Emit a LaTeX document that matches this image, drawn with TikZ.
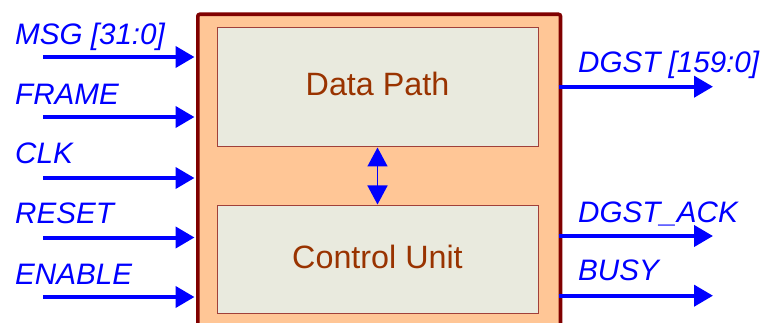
\documentclass[tikz,border=0pt]{standalone}
\usepackage{fontspec}
\setmainfont{Liberation Sans}
\usetikzlibrary{arrows.meta}
\definecolor{sigblue}{RGB}{0,0,255}
\definecolor{outerfill}{RGB}{255,198,150}
\definecolor{outerdraw}{RGB}{128,0,0}
\definecolor{innerfill}{RGB}{233,234,222}
\definecolor{innerdraw}{RGB}{160,64,58}
\definecolor{labelbrown}{RGB}{153,51,0}
\tikzset{
  sig/.style={draw=sigblue, line width=4pt, -{Triangle[length=19pt,width=21pt]}},
  biarrow/.style={draw=sigblue, line width=1.5pt, {Triangle[length=19pt,width=20pt]}-{Triangle[length=19pt,width=20pt]}},
  siglabel/.style={anchor=base west, inner sep=0pt, text=sigblue, font=\fontsize{29.6}{35}\selectfont\itshape},
  innerbox/.style={draw=innerdraw, fill=innerfill, line width=1pt, minimum width=321pt, inner sep=0pt},
  boxtext/.style={anchor=base, inner sep=0pt, text=labelbrown, font=\fontsize{32.3}{38}\selectfont},
}
\begin{document}
\begin{tikzpicture}[x=1pt,y=-1pt]
\useasboundingbox (0,0) rectangle (773,323);
\begin{scope}
\clip (0,0) rectangle (773,323);
\node[draw=outerdraw, fill=outerfill, line width=3.6pt, rounded corners=2pt, minimum width=362.7pt, minimum height=340pt, anchor=north west, inner sep=0pt] (outer) at (196,12.5) {};
\end{scope}
\node[innerbox, minimum height=119pt] (dp) at (377.5,87.5) {};
\node[boxtext] (dpt) at (377.5,96) {Data Path};
\node[innerbox, minimum height=108pt] (cu) at (377.5,259) {};
\node[boxtext] (cut) at (377.5,268.3) {Control Unit};
\draw[biarrow] (dp.south) -- (cu.north);
% inputs
\coordinate (i1) at (43,57);
\coordinate (i2) at (43,117);
\coordinate (i3) at (43,178);
\coordinate (i4) at (43,237.5);
\coordinate (i5) at (43,297);
\coordinate (bw) at (194.5,0);
\draw[sig] (i1) -- (i1 -| bw);
\draw[sig] (i2) -- (i2 -| bw);
\draw[sig] (i3) -- (i3 -| bw);
\draw[sig] (i4) -- (i4 -| bw);
\draw[sig] (i5) -- (i5 -| bw);
\node[siglabel] (l1) at (15,45) {MSG [31:0]};
\node[siglabel] (l2) at (15,105) {FRAME};
\node[siglabel] (l3) at (15,164) {CLK};
\node[siglabel] (l4) at (15,223.5) {RESET};
\node[siglabel] (l5) at (15,284) {ENABLE};
% outputs
\coordinate (be) at (558.7,0);
\coordinate (o1) at (713,86.7);
\coordinate (o2) at (713,236);
\coordinate (o3) at (713,295.7);
\draw[sig] (o1 -| be) -- (o1);
\draw[sig] (o2 -| be) -- (o2);
\draw[sig] (o3 -| be) -- (o3);
\node[siglabel] (r1) at (578,73) {DGST [159:0]};
\node[siglabel] (r2) at (578,222.7) {DGST\_ACK};
\node[siglabel] (r3) at (578,280.7) {BUSY};
\end{tikzpicture}
\end{document}
